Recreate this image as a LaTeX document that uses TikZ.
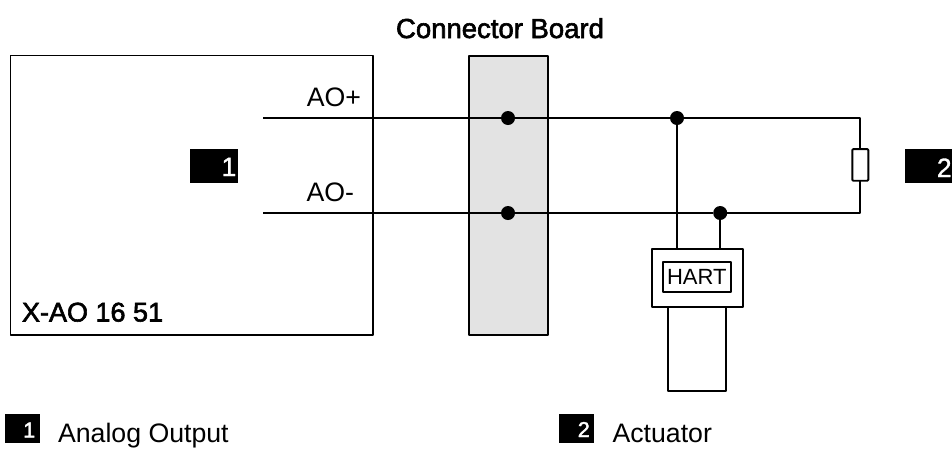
\documentclass[tikz,border=0pt]{standalone}
\usepackage{fontspec}
\setmainfont{Liberation Sans}
\newfontfamily\heavyface[FakeBold=2.2]{Liberation Sans}
\newfontfamily\digitface[FakeBold=1.2]{Liberation Sans}
\tikzset{
  wire/.style={line width=1.9pt,black,line join=round},
  boxline/.style={draw=black,line width=1.9pt,line join=round,inner sep=0pt,outer sep=0pt,anchor=north west},
  txt/.style={inner sep=0pt,outer sep=0pt,anchor=base west,font=\fontsize{26.7}{26.7}\selectfont,text=black},
  boldtxt/.style={txt,font=\fontsize{27.5}{27.5}\heavyface},
  joint/.style={circle,fill=black,draw=none,minimum size=14pt,inner sep=0pt},
  tag/.style={fill=black,draw=none,inner sep=0pt,outer sep=0pt,anchor=north west},
  tagnum/.style={inner sep=0pt,anchor=base east,text=white,font=\fontsize{26.5}{26.5}\digitface},
  legendnum/.style={tagnum,font=\fontsize{21.5}{21.5}\heavyface},
}
\begin{document}
\begin{tikzpicture}[x=1pt,y=-1pt]
\useasboundingbox (0,0) rectangle (952,448);
\node[boxline,minimum width=362.8pt,minimum height=279.5pt] (aout) at (10.5,55.5) {};
\node[boxline,fill=black!11,minimum width=78.4pt,minimum height=279pt] (board) at (469.3,56) {};
\node[boldtxt,anchor=base] (boardlabel) at (500,38) {Connector Board};
\node[boldtxt,font=\fontsize{27}{27}\heavyface] (xao) at (22,321.5) {X-AO 16 51};
\node[txt,anchor=base east] (aop) at (361,106.5) {AO+};
\node[txt,anchor=base east] (aom) at (354,201) {AO-};
\coordinate (aopstart) at (263,118);
\coordinate (aomstart) at (263,213);
\coordinate (tr) at (860.3,118);
\coordinate (br) at (860.3,213);
\node[joint] (j1) at (508,118) {};
\node[joint] (j2) at (508,213) {};
\node[joint] (j3) at (677,118) {};
\node[joint] (j4) at (720.2,213) {};
\node[boxline,fill=white,rounded corners=1pt,minimum width=16pt,minimum height=31.7pt,anchor=center] (res) at (860.3,164.9) {};
\node[boxline,minimum width=91pt,minimum height=57.4pt] (act) at (651.7,249.3) {};
\node[boxline,minimum width=68.3pt,minimum height=30.3pt,font=\fontsize{22}{22}\selectfont] (hart) at (662.7,261.7) {HART};
\node[boxline,minimum width=58.3pt,minimum height=84pt] (lower) at (667.7,306.7) {};
\draw[wire] (aopstart) -- (j1) -- (j3) -- (tr) -- (res.north);
\draw[wire] (aomstart) -- (j2) -- (j4) -- (br) -- (res.south);
\draw[wire] (j3) -- (j3 |- act.north);
\draw[wire] (j4) -- (j4 |- act.north);
\node[tag,minimum width=48pt,minimum height=34pt] (t1) at (190,149) {};
\node[tagnum] (n1) at (236.5,176) {1};
\node[tag,minimum width=47pt,minimum height=34pt] (t2) at (905,149) {};
\node[tagnum] (n2) at (951.8,177) {2};
\node[tag,minimum width=35pt,minimum height=29pt] (l1) at (5,414) {};
\node[legendnum] (ln1) at (35.5,437.5) {1};
\node[txt] (ltxt1) at (58,442) {Analog Output};
\node[tag,minimum width=35pt,minimum height=29pt] (l2) at (559,414) {};
\node[legendnum] (ln2) at (590,437) {2};
\node[txt] (ltxt2) at (612.5,442) {Actuator};
\end{tikzpicture}
\end{document}
